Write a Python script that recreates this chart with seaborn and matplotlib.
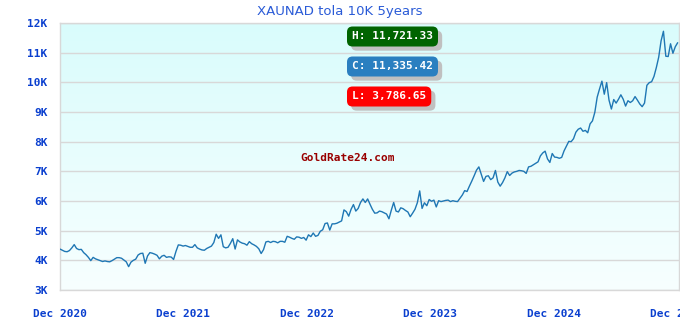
import numpy as np
import pandas as pd
import matplotlib
matplotlib.use("Agg")
import matplotlib.pyplot as plt
import matplotlib.patheffects as pe
from matplotlib.colors import LinearSegmentedColormap
import seaborn as sns

title = "XAUNAD tola 10K 5years"
start_date = "2020-12-01"
values = [
    # Dec 2020 - Dec 2021
    4380, 4340, 4300, 4290, 4330, 4420, 4530, 4400, 4360, 4370,
    4260, 4190, 4100, 3990, 4100, 4050, 4020, 3990, 3960, 3980,
    3960, 3950, 3990, 4040, 4090, 4090, 4070, 4010, 3950, 3786.65,
    3940, 4000, 4040, 4180, 4230, 4240, 3900, 4150, 4260, 4240,
    4210, 4170, 4050, 4140, 4170, 4100, 4120, 4110, 4030, 4300,
    4520, 4510,
    # Dec 2021 - Dec 2022
    4480, 4500, 4470, 4440, 4440, 4530, 4420, 4380, 4350, 4340,
    4400, 4440, 4480, 4600, 4880, 4740, 4860, 4460, 4420, 4440,
    4570, 4730, 4380, 4690, 4620, 4580, 4560, 4510, 4630, 4560,
    4520, 4470, 4390, 4230, 4360, 4620, 4640, 4600, 4640, 4630,
    4590, 4640, 4640, 4610, 4810, 4780, 4740, 4710, 4790, 4780,
    4740, 4770,
    # Dec 2022 - Dec 2023
    4680, 4860, 4800, 4920, 4810, 4840, 4980, 5030, 5240, 5260,
    5020, 5230, 5230, 5250, 5290, 5330, 5700, 5640, 5490, 5720,
    5880, 5660, 5750, 5950, 6070, 5950, 6070, 5890, 5720, 5590,
    5600, 5660, 5640, 5600, 5560, 5400, 5690, 5950, 5660, 5630,
    5770, 5740, 5680, 5630, 5470, 5590, 5720, 5940, 6340, 5750,
    5940, 5840,
    # Dec 2023 - Dec 2024
    6050, 5990, 6030, 5800, 6010, 5980, 6000, 6020, 6030, 5980,
    6010, 5990, 5980, 6090, 6200, 6350, 6320, 6500, 6670, 6850,
    7040, 7150, 6900, 6660, 6830, 6850, 6720, 6780, 7030, 6640,
    6500, 6620, 6780, 6990, 6860, 6940, 6980, 7000, 7030, 7020,
    7000, 6930, 7150, 7170, 7220, 7270, 7320, 7520, 7620, 7680,
    7420, 7300,
    # Dec 2024 - Dec 2025
    7600, 7480, 7470, 7440, 7470, 7690, 7850, 8010, 8000, 8100,
    8320, 8420, 8460, 8350, 8380, 8300, 8600, 8700, 8990, 9500,
    9780, 10040, 9600, 9990, 9400, 9100, 9420, 9300, 9430, 9580,
    9430, 9200, 9380, 9320, 9380, 9520, 9400, 9270, 9180, 9300,
    9900, 9990, 10020, 10200, 10500, 10850, 11400, 11721.33, 10880, 10870,
    11300, 10980, 11200, 11335.42,
]
y_ticks = [3000, 4000, 5000, 6000, 7000, 8000, 9000, 10000, 11000, 12000]
y_labels = ["3K", "4K", "5K", "6K", "7K", "8K", "9K", "10K", "11K", "12K"]
x_tick_dates = ["2020-12-01", "2021-12-01", "2022-12-01", "2023-12-01", "2024-12-01", "2025-12-01"]
x_tick_labels = ["Dec 2020", "Dec 2021", "Dec 2022", "Dec 2023", "Dec 2024", "Dec 2025"]
high_label = "H: 11,721.33"
close_label = "C: 11,335.42"
low_label = "L: 3,786.65"
watermark = "GoldRate24.com"

dates = pd.date_range(start_date, periods=len(values), freq="7D")
df = pd.DataFrame({"date": dates, "value": values})

sns.set_style("white")
fig = plt.figure(figsize=(6.8, 3.2), dpi=100)
ax = fig.add_axes([60 / 680, 30 / 320, 619 / 680, 267 / 320])

# gradient background
cmap = LinearSegmentedColormap.from_list("bg", ["#f7ffff", "#d9fcfc"])
grad = np.linspace(0, 1, 256).reshape(-1, 1)
ax.imshow(grad, extent=[0, 1, 0, 1], transform=ax.transAxes, aspect="auto",
          cmap=cmap, origin="lower", zorder=0)

sns.lineplot(data=df, x="date", y="value", ax=ax, color="#1f77b4", linewidth=1.0, zorder=3)

ax.set_xlim(pd.Timestamp("2020-12-01"), pd.Timestamp("2025-12-06"))
ax.set_ylim(3000, 12000)
ax.set_yticks(y_ticks)
ax.set_yticklabels(y_labels)
ax.set_xticks([pd.Timestamp(d) for d in x_tick_dates])
ax.set_xticklabels(x_tick_labels)
ax.set_xlabel("")
ax.set_ylabel("")
ax.grid(axis="y", color="#d8d8d8", linewidth=1.0, zorder=1)
ax.grid(axis="x", visible=False)
ax.set_axisbelow(False)
for sp in ax.spines.values():
    sp.set_color("#d8d8d8")
    sp.set_linewidth(1.0)
ax.tick_params(axis="both", length=0, colors="#0a3fcf")
ax.tick_params(axis="y", pad=9)
ax.tick_params(axis="x", pad=14)
for lab in ax.get_xticklabels() + ax.get_yticklabels():
    lab.set_fontfamily("DejaVu Sans Mono")
    lab.set_fontweight("bold")
    lab.set_fontsize(8)
    lab.set_color("#0a3fcf")

fig.text(340 / 680, 1 - 11 / 320, title, ha="center", va="center",
         fontsize=9.5, color="#2a5bd7", family="DejaVu Sans")


def badge(y_px, text, color):
    t = fig.text(352 / 680, 1 - y_px / 320, text, ha="left", va="center", fontsize=8,
                 family="DejaVu Sans Mono", fontweight="bold", color="white",
                 bbox=dict(boxstyle="round,pad=0.45,rounding_size=0.5", fc=color, ec="none"))
    t.get_bbox_patch().set_path_effects([
        pe.SimplePatchShadow(offset=(3, -3), shadow_rgbFace="#c0c0c0", alpha=1.0),
        pe.Normal(),
    ])


badge(36.5, high_label, "#006400")
badge(66.5, close_label, "#2a7fc0")
badge(96.5, low_label, "#ff0000")

fig.text(348 / 680, 1 - 158 / 320, watermark, ha="center", va="center", fontsize=8,
         family="DejaVu Sans Mono", fontweight="bold", color="#990000")

fig.savefig("out.png", dpi=100)
